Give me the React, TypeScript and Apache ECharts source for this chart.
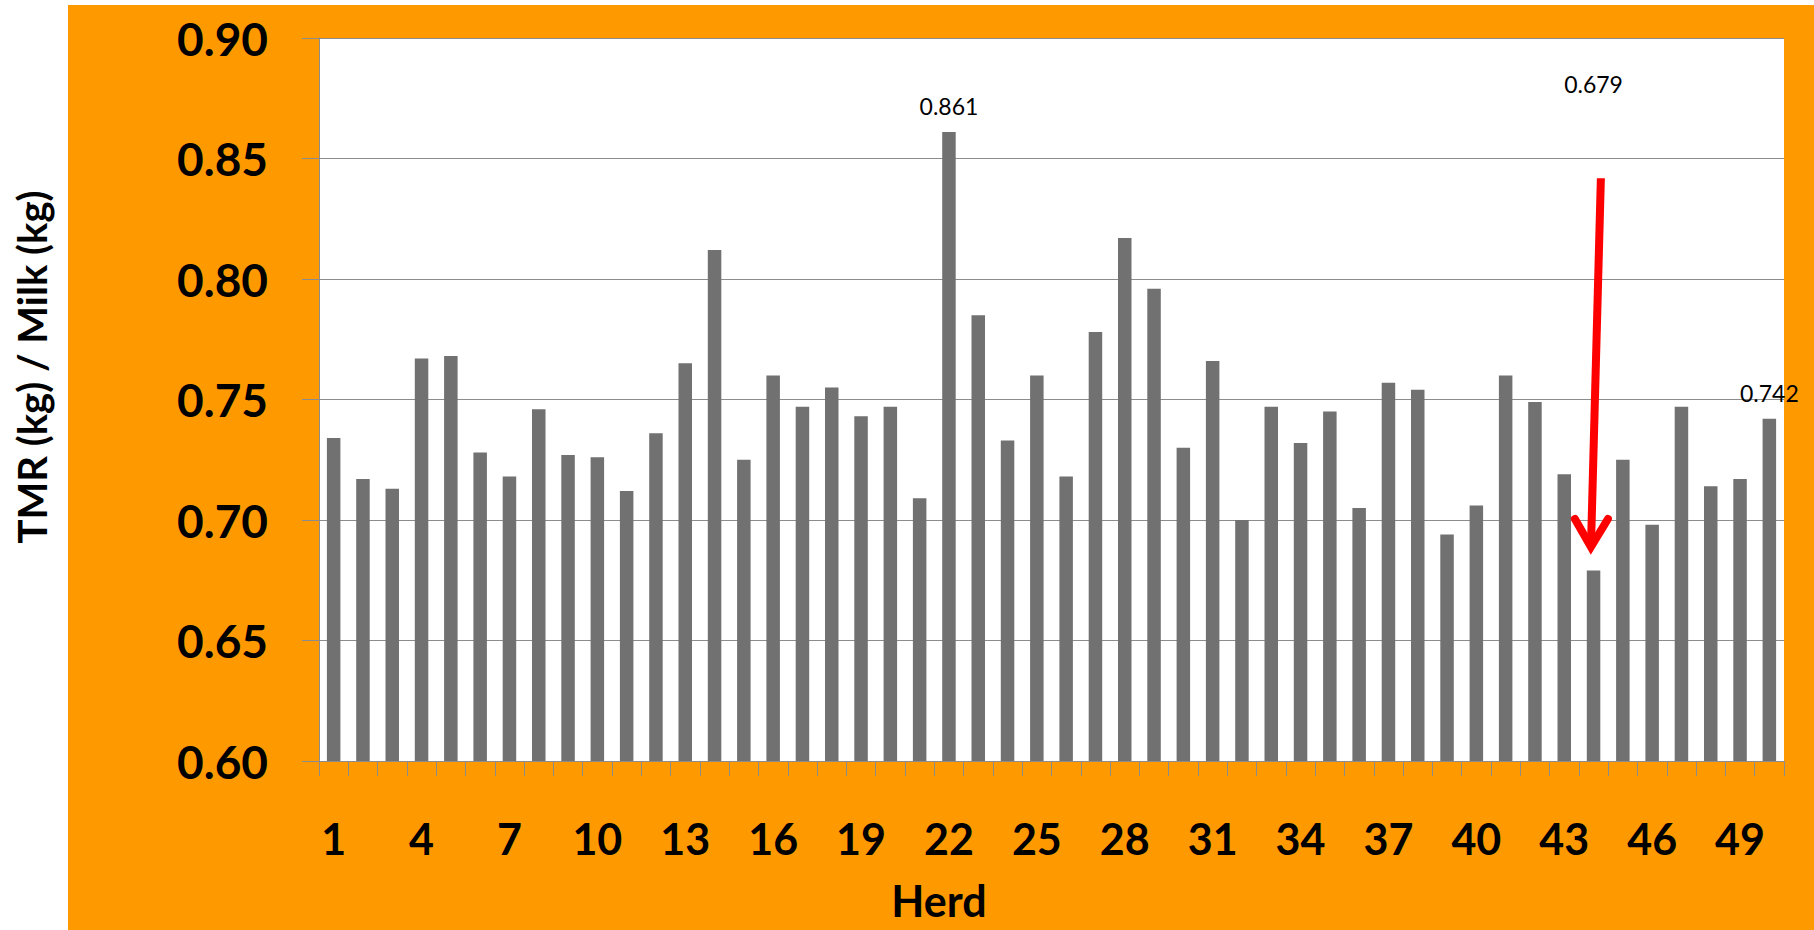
import React, { useEffect, useRef } from "react";
import * as echarts from "echarts";

const herds = [
  "1", "2", "3", "4", "5", "6", "7", "8", "9", "10",
  "11", "12", "13", "14", "15", "16", "17", "18", "19", "20",
  "21", "22", "23", "24", "25", "26", "27", "28", "29", "30",
  "31", "32", "33", "34", "35", "36", "37", "38", "39", "40",
  "41", "42", "43", "44", "45", "46", "47", "48", "49", "50",
];

const ratios = [
  0.734, 0.717, 0.713, 0.767, 0.768, 0.728, 0.718, 0.746, 0.727, 0.726,
  0.712, 0.736, 0.765, 0.812, 0.725, 0.760, 0.747, 0.755, 0.743, 0.747,
  0.709, 0.861, 0.785, 0.733, 0.760, 0.718, 0.778, 0.817, 0.796, 0.730,
  0.766, 0.700, 0.747, 0.732, 0.745, 0.705, 0.757, 0.754, 0.694, 0.706,
  0.760, 0.749, 0.719, 0.679, 0.725, 0.698, 0.747, 0.714, 0.717, 0.742,
];

const yMin = 0.6;
const yMax = 0.9;
const yStep = 0.05;

const labeledHerds = ["22", "50"];
const highlightedHerd = "44";
const highlightLabelValue = 0.881;

const yTitle = "TMR (kg) / Milk (kg)";
const xTitle = "Herd";

const ORANGE = "#ff9900";
const GRAY_LINE = "#8c8c8c";
const BAR = "#717171";

export default function App() {
  const ref = useRef<HTMLDivElement>(null);

  useEffect(() => {
    document.body.style.margin = "0";
    const el = ref.current!;
    const chart = echarts.init(el, null, { renderer: "svg", width: 1814, height: 930 });

    const hiIdx = herds.indexOf(highlightedHerd);

    const option: any = {
      animation: false,
      backgroundColor: "#ffffff",
      grid: {
        left: 319,
        top: 38,
        width: 1465,
        height: 723,
        show: true,
        backgroundColor: "#ffffff",
        borderWidth: 0,
      },
      xAxis: {
        type: "category",
        data: herds,
        boundaryGap: true,
        axisLine: { show: true, lineStyle: { color: GRAY_LINE, width: 1 } },
        axisTick: {
          show: true,
          interval: 0,
          length: 15,
          alignWithLabel: false,
          lineStyle: { color: GRAY_LINE, width: 1 },
        },
        axisLabel: {
          interval: 2,
          margin: 56,
          color: "#000",
          fontFamily: "Lato",
          fontWeight: "bold",
          fontSize: 43,
        },
        splitLine: { show: false },
      },
      yAxis: {
        type: "value",
        min: yMin,
        max: yMax,
        interval: yStep,
        axisLine: { show: true, lineStyle: { color: GRAY_LINE, width: 1 } },
        axisTick: { show: true, length: 17, lineStyle: { color: GRAY_LINE, width: 1 } },
        axisLabel: {
          margin: 51,
          color: "#000",
          fontFamily: "Lato",
          fontWeight: "bold",
          fontSize: 46,
          formatter: (v: number) => v.toFixed(2),
        },
        splitLine: { show: true, lineStyle: { color: GRAY_LINE, width: 1 } },
      },
      series: [
        {
          type: "bar",
          barWidth: 13.5,
          itemStyle: { color: BAR },
          data: ratios.map((v, i) =>
            labeledHerds.includes(herds[i])
              ? { value: v, label: { show: true } }
              : { value: v }
          ),
          label: {
            show: false,
            position: "top",
            distance: 14,
            color: "#000",
            fontFamily: "Lato",
            fontSize: 23,
            formatter: (p: any) => Number(p.value).toFixed(3),
          },
          markPoint: {
            symbol: "circle",
            symbolSize: 1,
            itemStyle: { color: "rgba(0,0,0,0)" },
            label: {
              show: true,
              position: "inside",
              color: "#000",
              fontFamily: "Lato",
              fontSize: 23,
              formatter: () => ratios[hiIdx].toFixed(3),
            },
            data: [{ coord: [highlightedHerd, highlightLabelValue], value: ratios[hiIdx] }],
          },
        },
      ],
    };

    chart.setOption(option);

    const px = (idx: number, val: number) =>
      chart.convertToPixel({ gridIndex: 0 }, [idx, val]) as number[];
    const c0 = px(hiIdx, 0.7);
    const c1 = px(hiIdx + 1, 0.7);
    const catW = c1[0] - c0[0];
    const cx = c0[0];
    const yAt = (v: number) => px(hiIdx, v)[1];

    const shaftTop = [cx + 0.25 * catW, yAt(0.8418)];
    const vertex = [cx - 0.09 * catW, yAt(0.6888)];
    const shaftEnd = [cx - 0.085 * catW, yAt(0.6905)];
    const armL = [cx - 0.635 * catW, yAt(0.7004)];
    const armR = [cx + 0.49 * catW, yAt(0.7004)];

    chart.setOption({
      graphic: {
        elements: [
          {
            type: "rect",
            id: "orangeBg",
            z: -100,
            silent: true,
            shape: { x: 68, y: 5, width: 1814 - 68, height: 930 - 5 },
            style: { fill: ORANGE },
          },
          {
            type: "text",
            id: "yTitle",
            x: 32,
            y: 367,
            rotation: Math.PI / 2,
            style: {
              text: yTitle,
              fill: "#000",
              font: "bold 40px Lato",
              align: "center",
              verticalAlign: "middle",
            },
          },
          {
            type: "text",
            id: "xTitle",
            x: 939,
            y: 900,
            style: {
              text: xTitle,
              fill: "#000",
              font: "bold 43px Lato",
              align: "center",
              verticalAlign: "middle",
            },
          },
          {
            type: "line",
            id: "arrowShaft",
            z: 50,
            shape: { x1: shaftTop[0], y1: shaftTop[1], x2: shaftEnd[0], y2: shaftEnd[1] },
            style: { stroke: "#ff0000", lineWidth: 8, lineCap: "butt" },
          },
          {
            type: "polyline",
            id: "arrowHead",
            z: 50,
            shape: { points: [armL, vertex, armR] },
            style: { stroke: "#ff0000", lineWidth: 8, lineCap: "round", lineJoin: "miter", fill: "none" },
          },
        ],
      },
    });

    return () => {
      chart.dispose();
    };
  }, []);

  return (
    <div
      ref={ref}
      style={{ position: "absolute", left: 0, top: 0, width: 1814, height: 930 }}
    />
  );
}
